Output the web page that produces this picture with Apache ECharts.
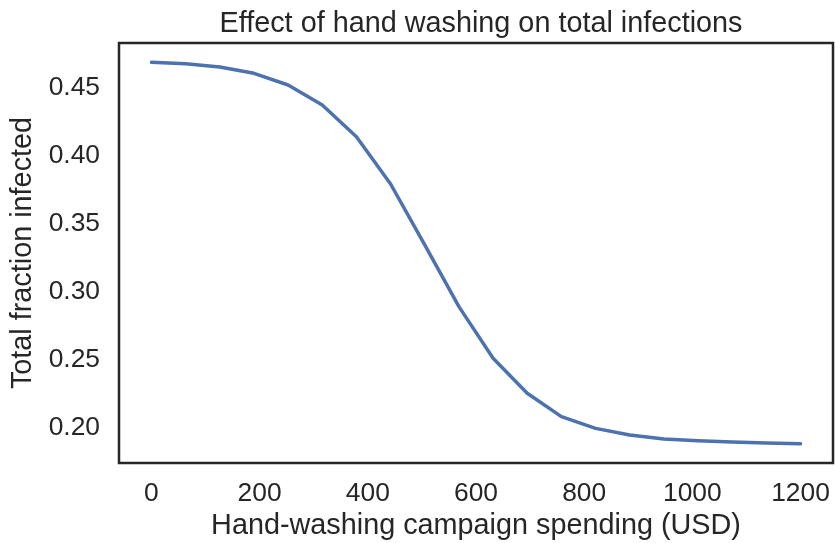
<!DOCTYPE html>
<html>
<head>
<meta charset="utf-8">
<script src="https://cdn.jsdelivr.net/npm/echarts@6/dist/echarts.min.js"></script>
<style>
  html, body { margin: 0; padding: 0; background: #fff; }
  #chart { width: 835px; height: 543px; }
</style>
</head>
<body>
<div id="chart"></div>
<script>
// spending levels (USD)
const spending = [0, 63.16, 126.32, 189.47, 252.63, 315.79, 378.95, 442.11, 505.26, 568.42,
  631.58, 694.74, 757.89, 821.05, 884.21, 947.37, 1010.53, 1073.68, 1136.84, 1200]
// total fraction infected at each level
const infected = [0.4689, 0.4679, 0.4655, 0.4608, 0.4522, 0.4375, 0.4141, 0.3793, 0.3345, 0.2890,
  0.2510, 0.2252, 0.2080, 0.1994, 0.1945, 0.1915, 0.1903, 0.1893, 0.1886, 0.1881]
const xTicks = [0, 200, 400, 600, 800, 1000, 1200]
const yTicks = [0.20, 0.25, 0.30, 0.35, 0.40, 0.45]

const textColor = '#262626'
const font = 'Liberation Sans, Arial, sans-serif'

const chart = echarts.init(document.getElementById('chart'))
chart.setOption({
  animation: false,
  title: {
    text: 'Effect of hand washing on total infections',
    left: 476,
    textAlign: 'center',
    top: 5,
    textStyle: { fontFamily: font, fontSize: 28.8, fontWeight: 'normal', color: textColor }
  },
  grid: {
    left: 119, right: 2, top: 43, bottom: 80,
    containLabel: false,
    outerBoundsMode: 'none',
    show: true,
    borderColor: textColor,
    borderWidth: 2.5,
    backgroundColor: '#fff'
  },
  xAxis: {
    type: 'value',
    min: -60,
    max: 1260,
    name: 'Hand-washing campaign spending (USD)',
    nameLocation: 'middle',
    nameGap: 44,
    nameTextStyle: { fontFamily: font, fontSize: 28.8, color: textColor },
    axisLine: { show: false },
    axisTick: { show: false },
    splitLine: { show: false },
    axisLabel: {
      customValues: xTicks,
      margin: 18,
      fontFamily: font,
      fontSize: 26.4,
      color: textColor,
      formatter: v => String(v)
    }
  },
  yAxis: {
    type: 'value',
    min: 0.1739,
    max: 0.4831,
    name: 'Total fraction infected',
    nameLocation: 'middle',
    nameGap: 68,
    nameTextStyle: { fontFamily: font, fontSize: 28.8, color: textColor },
    axisLine: { show: false },
    axisTick: { show: false },
    splitLine: { show: false },
    axisLabel: {
      customValues: yTicks,
      margin: 19,
      fontFamily: font,
      fontSize: 26.4,
      color: textColor,
      formatter: v => v.toFixed(2)
    }
  },
  series: [
    {
      type: 'line',
      data: spending.map((s, i) => [s, infected[i]]),
      showSymbol: false,
      lineStyle: { color: '#4c72b0', width: 3.5, cap: 'round', join: 'round' }
    }
  ]
})
</script>
</body>
</html>
